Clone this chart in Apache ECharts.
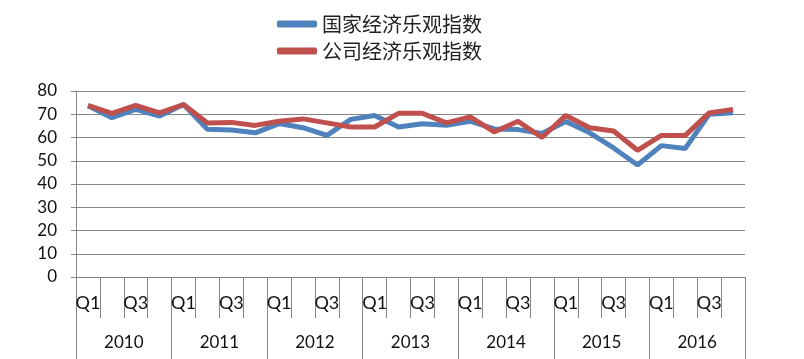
<!DOCTYPE html>
<html><head><meta charset="utf-8">
<script src="https://cdn.jsdelivr.net/npm/echarts@6/dist/echarts.min.js"></script>
<style>html,body{margin:0;padding:0;background:#fff}#c{width:804px;height:359px}</style>
</head><body><div id="c"></div>
<script>
var years = ['2010','2011','2012','2013','2014','2015','2016'];
var quarterNames = ['Q1','Q2','Q3','Q4'];
var seriesNames = ['国家经济乐观指数','公司经济乐观指数'];
var nationalIndex = [73.6,68.5,72.1,69.2, 74.2,63.5,63.2,62.0, 66.0,64.2,60.9,67.8, 69.5,64.5,65.9,65.3, 67.0,63.7,63.4,61.7, 66.9,62.0,55.5,48.2, 56.5,55.3,70.0,70.6];
var companyIndex  = [73.8,70.4,73.8,70.6, 74.2,66.2,66.5,65.2, 67.0,68.0,66.3,64.5, 64.5,70.4,70.4,66.3, 68.9,62.4,67.0,60.0, 69.5,64.2,62.8,54.5, 60.9,60.9,70.6,72.1];
var quarters = [];
years.forEach(function(){ quarterNames.forEach(function(q){ quarters.push(q); }); });

var font = 'Lato, "Noto Sans CJK SC", sans-serif';
var gray = '#868686';
var chart = echarts.init(document.getElementById('c'));
chart.setOption({
  animation: false,
  legend: {
    orient: 'vertical', left: 272, top: 9, itemGap: 7,
    itemWidth: 40, itemHeight: 7, icon: 'roundRect',
    textStyle: {fontFamily: '"Noto Sans CJK SC", sans-serif', fontSize: 20, color: '#222'},
    data: seriesNames
  },
  grid: {left: 76, right: 59, top: 91, bottom: 82, containLabel: false, outerBoundsMode: 'none'},
  xAxis: [
    {
      type: 'category', position: 'bottom', data: quarters, boundaryGap: true,
      axisLine: {show: true, lineStyle: {color: gray}},
      axisTick: {show: true, interval: 0, length: 41, lineStyle: {color: gray}},
      axisLabel: {interval: 1, margin: 17, fontFamily: font, fontSize: 18, color: '#111'}
    },
    {
      type: 'category', position: 'bottom', data: years, boundaryGap: true,
      axisLine: {show: false},
      axisTick: {show: true, interval: 0, length: 82, lineStyle: {color: gray}},
      axisLabel: {interval: 0, margin: 57, fontFamily: font, fontSize: 17, color: '#111'}
    }
  ],
  yAxis: {
    type: 'value', min: 0, max: 80, interval: 10,
    axisLine: {show: true, lineStyle: {color: gray}},
    axisTick: {show: true, length: 5, lineStyle: {color: gray}},
    splitLine: {show: true, lineStyle: {color: gray, width: 1}},
    axisLabel: {margin: 19, fontFamily: font, fontSize: 17, color: '#111'}
  },
  series: [
    {name: seriesNames[0], type: 'line', xAxisIndex: 0, data: nationalIndex, showSymbol: false, symbol: 'none',
     lineStyle: {color: '#4F81BD', width: 5}, itemStyle: {color: '#4F81BD'}},
    {name: seriesNames[1], type: 'line', xAxisIndex: 0, data: companyIndex, showSymbol: false, symbol: 'none',
     lineStyle: {color: '#C0504D', width: 5}, itemStyle: {color: '#C0504D'}}
  ]
});
</script></body></html>
